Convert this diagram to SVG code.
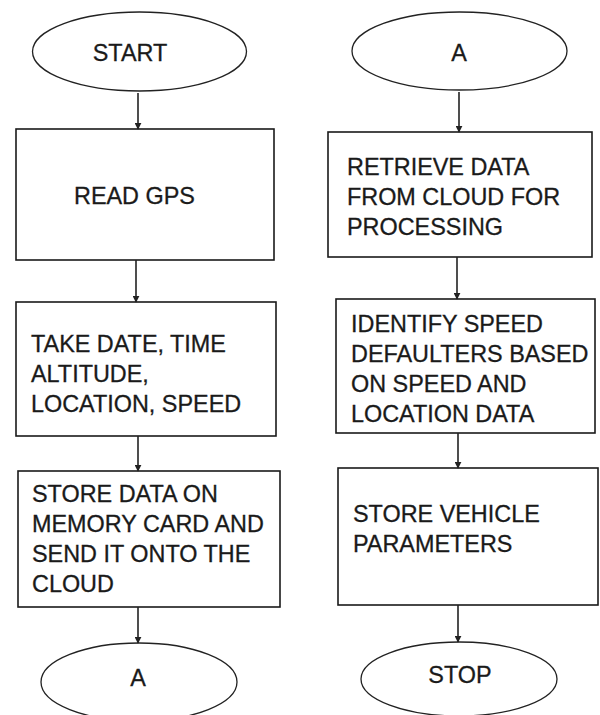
<svg xmlns="http://www.w3.org/2000/svg" width="600" height="715" viewBox="0 0 600 715">
  <style>
    .term { fill: #fff; stroke: #222; stroke-width: 1.3; }
    .box { fill: #fff; stroke: #1a1a1a; stroke-width: 1.6; }
    .lbl { font-family: "Liberation Sans", Arial, sans-serif; font-size: 23.4px; fill: #1a1a1a; stroke: #1a1a1a; stroke-width: 0.3; }
    .mid { text-anchor: middle; }
    .conn { stroke: #222; stroke-width: 1.6; fill: none; marker-end: url(#head); }
  </style>
  <defs>
    <marker id="head" viewBox="0 0 10 10" refX="9" refY="5" markerWidth="7" markerHeight="7" orient="auto" markerUnits="userSpaceOnUse">
      <path d="M0,0 L10,5 L0,10 z" fill="#222"/>
    </marker>
  </defs>

  <rect width="600" height="715" fill="#fff"/>

  <!-- left column -->
  <g id="start">
    <ellipse class="term" cx="139.5" cy="51.5" rx="107" ry="39.5"/>
    <text class="lbl mid" x="130" y="61">START</text>
  </g>
  <g id="read-gps">
    <rect class="box" x="16" y="129" width="258" height="131"/>
    <text class="lbl" x="74" y="204">READ GPS</text>
  </g>
  <g id="take-data">
    <rect class="box" x="16" y="302" width="260" height="134"/>
    <text class="lbl" x="31" y="352">TAKE DATE, TIME</text>
    <text class="lbl" x="31" y="382">ALTITUDE,</text>
    <text class="lbl" x="31" y="412">LOCATION, SPEED</text>
  </g>
  <g id="store-send">
    <rect class="box" x="18" y="471" width="262" height="136"/>
    <text class="lbl" x="32" y="502">STORE DATA ON</text>
    <text class="lbl" x="32" y="532">MEMORY CARD AND</text>
    <text class="lbl" x="32" y="562">SEND IT ONTO THE</text>
    <text class="lbl" x="32" y="592">CLOUD</text>
  </g>
  <g id="connector-a-out">
    <ellipse class="term" cx="139" cy="682" rx="98" ry="39"/>
    <text class="lbl mid" x="138" y="686">A</text>
  </g>

  <!-- right column -->
  <g id="connector-a-in">
    <ellipse class="term" cx="459.5" cy="51" rx="107.5" ry="39"/>
    <text class="lbl mid" x="459" y="61">A</text>
  </g>
  <g id="retrieve">
    <rect class="box" x="328" y="132" width="264" height="125"/>
    <text class="lbl" x="347" y="175">RETRIEVE DATA</text>
    <text class="lbl" x="347" y="205">FROM CLOUD FOR</text>
    <text class="lbl" x="347" y="235">PROCESSING</text>
  </g>
  <g id="identify">
    <rect class="box" x="336" y="299" width="259" height="134"/>
    <text class="lbl" x="351" y="332">IDENTIFY SPEED</text>
    <text class="lbl" x="351" y="362">DEFAULTERS BASED</text>
    <text class="lbl" x="351" y="392">ON SPEED AND</text>
    <text class="lbl" x="351" y="422">LOCATION DATA</text>
  </g>
  <g id="store-params">
    <rect class="box" x="338" y="468" width="260" height="137"/>
    <text class="lbl" x="353" y="522">STORE VEHICLE</text>
    <text class="lbl" x="353" y="552">PARAMETERS</text>
  </g>
  <g id="stop">
    <ellipse class="term" cx="459" cy="679" rx="98" ry="37"/>
    <text class="lbl mid" x="460" y="683">STOP</text>
  </g>

  <!-- connectors -->
  <g id="connectors">
    <line class="conn" x1="138" y1="93" x2="138" y2="129"/>
    <line class="conn" x1="136" y1="260" x2="136" y2="302"/>
    <line class="conn" x1="138" y1="436" x2="138" y2="471"/>
    <line class="conn" x1="138" y1="607" x2="138" y2="643"/>
    <line class="conn" x1="459" y1="92" x2="459" y2="132"/>
    <line class="conn" x1="457" y1="257" x2="457" y2="299"/>
    <line class="conn" x1="458" y1="433" x2="458" y2="468"/>
    <line class="conn" x1="458" y1="605" x2="458" y2="642"/>
  </g>
</svg>
